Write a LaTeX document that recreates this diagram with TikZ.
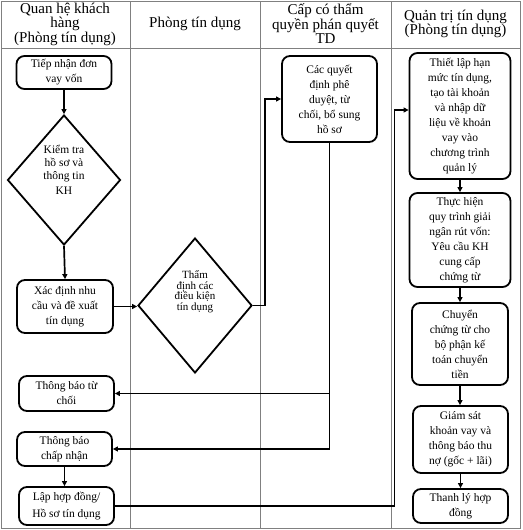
\documentclass[tikz,border=0pt]{standalone}
\usepackage{fontspec}
\setmainfont{Liberation Serif}
\usetikzlibrary{shapes.geometric,arrows.meta,calc}
\begin{document}
\begin{tikzpicture}[x=1pt,y=-1pt,
  box/.style 2 args={draw,line width=1.8pt,rounded corners=8pt,fill=white,align=center,inner sep=0pt,
     minimum width=#1,minimum height=#2,font=\fontsize{11.5}{15}\selectfont},
  diam/.style 2 args={draw,line width=1.8pt,diamond,fill=white,inner sep=0pt,minimum width=#1,minimum height=#2},
  head/.style={align=center,font=\fontsize{15}{14.5}\selectfont},
  arr/.style={line width=1.7pt,-{Triangle[length=5pt,width=5pt]}},
  gridline/.style={draw=gray,line width=0.9pt}]
\useasboundingbox (0,0) rectangle (522,530);
\fill[white] (0,0) rectangle (522,530);
% frame and lanes
\draw[gridline] (1,1) rectangle (520,528);
\draw[gridline] (1,48) -- (520,48);
\draw[gridline] (130.5,1) -- (130.5,528);
\draw[gridline] (260.5,1) -- (260.5,528);
\draw[gridline] (391,1) -- (391,528);
% headers
\node[head] (h1) at (65,24) {Quan hệ khách\\hàng\\(Phòng tín dụng)};
\node[head] (h2) at (195,24) {Phòng tín dụng};
\node[head] (h3) at (325.5,24) {Cấp có thẩm\\quyền phán quyết\\TD};
\node[head] (h4) at (455.5,24) {Quản trị tín dụng\\(Phòng tín dụng)};
% lane 1
\node[box={95pt}{33pt}] (n1) at (64,72.5) {Tiếp nhận đơn\\vay vốn};
\node[diam={113pt}{130pt},label={[align=center,inner sep=0pt,font=\fontsize{11.5}{13}\selectfont,yshift=10pt]center:Kiểm tra\\hồ sơ và\\thông tin\\[2pt]KH}] (d1) at (64,180) {};
\node[box={96pt}{53pt}] (n3) at (65,306.5) {Xác định nhu\\cầu và đề xuất\\tín dụng};
\node[box={95pt}{35pt}] (n6) at (66.5,393.5) {Thông báo từ\\chối};
\node[box={95pt}{34pt}] (n7) at (64.5,449) {Thông báo\\chấp nhận};
\node[box={95pt}{38pt}] (n8) at (66.5,506) {Lập hợp đồng/\\[2pt]Hồ sơ tín dụng};
% lane 2
\node[diam={114pt}{135pt},label={[align=center,inner sep=0pt,font=\fontsize{11}{10.5}\selectfont,yshift=14pt]center:Thẩm\\định các\\điều kiện\\tín dụng}] (d2) at (195,305.5) {};
% lane 3
\node[box={95pt}{86pt}] (n5) at (329.5,99) {Các quyết\\định phê\\duyệt, từ\\chối, bổ sung\\hồ sơ};
% lane 4
\node[box={101pt}{126pt}] (n9) at (460,116) {Thiết lập hạn\\mức tín dụng,\\tạo tài khoản\\và nhập dữ\\liệu về khoản\\vay vào\\chương trình\\quản lý};
\node[box={101pt}{94pt}] (n10) at (460,240) {Thực hiện\\quy trình giải\\ngân rút vốn:\\Yêu cầu KH\\cung cấp\\chứng từ};
\node[box={96pt}{82pt}] (n11) at (460,344) {Chuyển\\chứng từ cho\\bộ phận kế\\toán chuyển\\tiền};
\node[box={95pt}{67pt}] (n12) at (460.5,439.5) {Giám sát\\khoản vay và\\thông báo thu\\nợ (gốc + lãi)};
\node[box={95pt}{34pt}] (n13) at (460.5,506) {Thanh lý hợp\\đồng};
% connectors
\draw[arr] (n1.south) -- (d1.north);
\draw[arr] (d1.south) -- (n3.north);
\draw[arr] (n3.east) -- (n3.east -| d2.west);
\draw[arr] (d2.east) -| ([xshift=-16pt]n5.west) -- (n5.west);
\draw[arr] (n5.south) |- (n7.east);
\draw[arr] (n5.south |- n6.east) -- (n6.east);
\draw[arr] (n7.south) -- (n7.south |- n8.north);
\draw[arr] (n8.east) -| ([xshift=-14pt,yshift=6pt]n9.west) -- ([yshift=6pt]n9.west);
\draw[arr] (n9.south) -- (n10.north);
\draw[arr] (n10.south) -- (n11.north);
\draw[arr] (n11.south) -- (n11.south |- n12.north);
\draw[arr] (n12.south) -- (n12.south |- n13.north);
\end{tikzpicture}
\end{document}
